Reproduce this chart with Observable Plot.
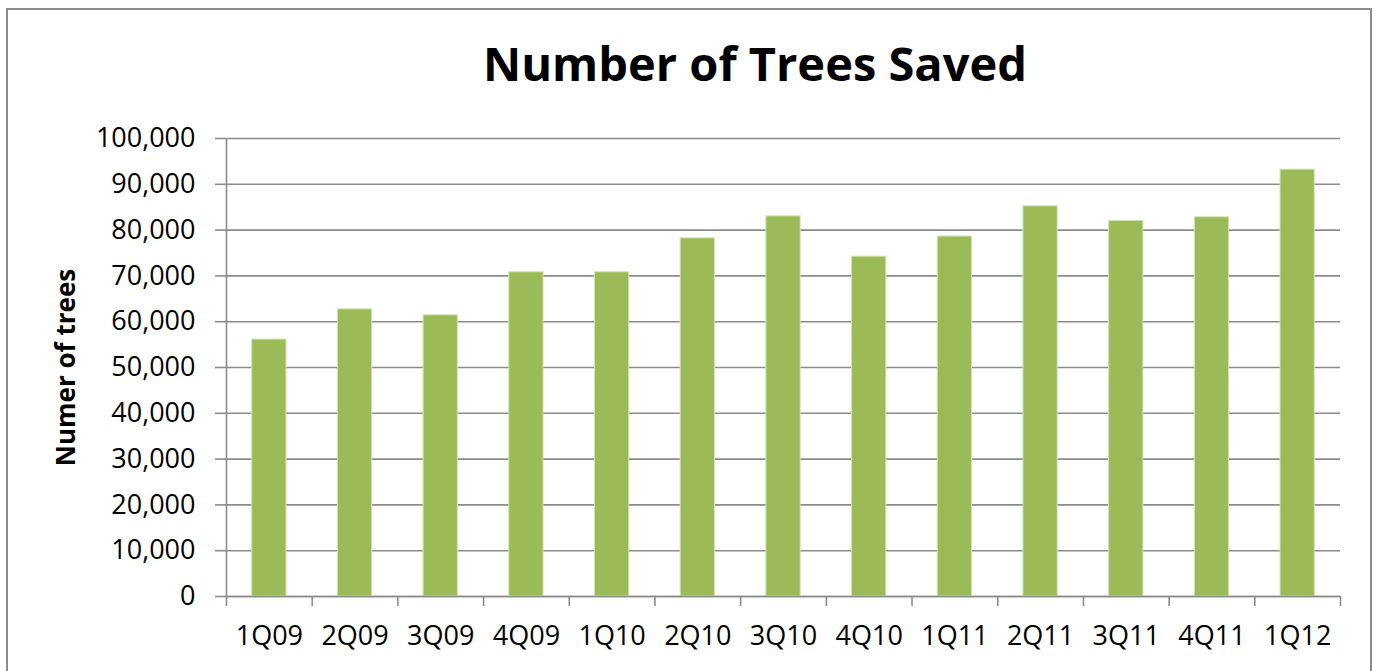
<!DOCTYPE html>
<html>
<head>
<meta charset="utf-8">
<script src="https://cdn.jsdelivr.net/npm/d3@7"></script>
<script src="https://cdn.jsdelivr.net/npm/@observablehq/plot@0.6"></script>
<style>
  html, body { margin: 0; padding: 0; background: #fff; overflow: hidden; }
  #wrap { position: relative; width: 1380px; height: 671px; font-family: "Open Sans", sans-serif; }
  #title { height: 110px; box-sizing: border-box; padding-top: 35px; text-align: center; padding-left: 130px;
           font-family: "Open Sans", sans-serif; font-weight: 700; font-size: 47px; line-height: 56px; color: #000; }
  #border { position: absolute; left: 6px; top: 8px; width: 1366px; height: 700px; border: 2px solid #8c8c8c; pointer-events: none; box-sizing: border-box; }
  svg { display: block; }
</style>
</head>
<body>
<div id="wrap">
  <div id="title">Number of Trees Saved</div>
  <div id="chart"></div>
  <div id="border"></div>
</div>
<script>
const quarters = ["1Q09","2Q09","3Q09","4Q09","1Q10","2Q10","3Q10","4Q10","1Q11","2Q11","3Q11","4Q11","1Q12"];
const treesSaved = [56100, 62700, 61400, 70800, 70800, 78200, 83000, 74200, 78600, 85200, 82000, 82800, 93200];
const yTicks = [0,10000,20000,30000,40000,50000,60000,70000,80000,90000,100000];
const yLabel = "Numer of trees";

const data = quarters.map((q, i) => ({q, i, value: treesSaved[i]}));
const grey = "#8c8c8c";

const chart = Plot.plot({
  width: 1380,
  height: 561,
  marginTop: 28,
  marginBottom: 75,
  marginLeft: 226,
  marginRight: 40,
  style: {fontFamily: "Open Sans, sans-serif", color: "#000", background: "transparent"},
  x: {type: "linear", domain: [0, quarters.length]},
  y: {domain: [0, 100000]},
  marks: [
    Plot.gridY(yTicks, {stroke: grey, strokeOpacity: 1, strokeWidth: 1.6}),
    Plot.rectY(data, {x1: d => d.i + 0.3, x2: d => d.i + 0.7, y: "value", fill: "#9bbb59", stroke: "#d4e3b5", strokeWidth: 1}),
    Plot.ruleX([0], {stroke: grey, strokeWidth: 1.6}),
    Plot.ruleY([0], {stroke: grey, strokeWidth: 1.6}),
    Plot.axisY({ticks: yTicks, tickFormat: d3.format(","), tickSize: 11, tickPadding: 20, fontSize: 27, stroke: grey, strokeWidth: 1.6, strokeOpacity: 1, label: null}),
    Plot.axisX({ticks: d3.range(0, quarters.length + 1), tickFormat: () => "", tickSize: 10, stroke: grey, strokeWidth: 1.6, strokeOpacity: 1, label: null}),
    Plot.axisX({ticks: quarters.map((q, i) => i + 0.5), tickFormat: d => quarters[Math.floor(d)], tickSize: 0, tickPadding: 29, fontSize: 27, label: null}),
    Plot.text([yLabel], {frameAnchor: "left", textAnchor: "middle", lineAnchor: "middle", dx: -160, rotate: -90, text: d => d, fontSize: 26, fontWeight: "bold", fill: "#000"})
  ]
});
document.getElementById("chart").appendChild(chart);
</script>
</body>
</html>
